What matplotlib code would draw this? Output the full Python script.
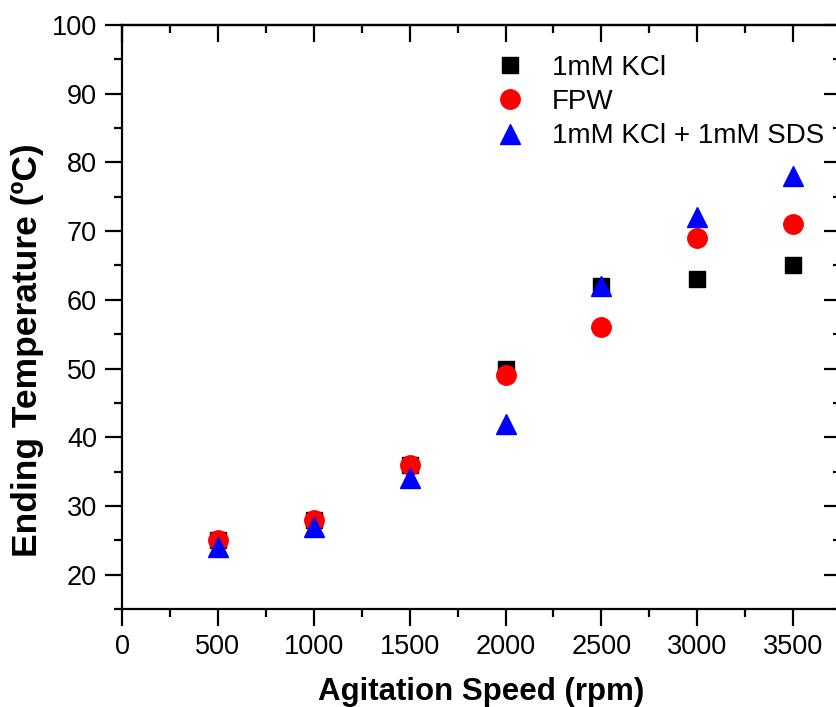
import matplotlib
matplotlib.use('Agg')
import matplotlib.pyplot as plt
from matplotlib.ticker import MultipleLocator

plt.rcParams['font.family'] = ['Liberation Sans', 'DejaVu Sans']

# agitation speed (rpm) and ending temperatures (C)
speed = [500, 1000, 1500, 2000, 2500, 3000, 3500]
kcl = [25, 28, 36, 50, 62, 63, 65]
fpw = [25, 28, 36, 49, 56, 69, 71]
kcl_sds = [24, 27, 34, 42, 62, 72, 78]

fig = plt.figure(figsize=(8.36, 7.07), dpi=100)
ax = fig.add_axes([0.146, 0.1386, 0.86, 0.826])

ax.plot(speed, kcl, 's', color='black', markersize=12, label='1mM KCl', clip_on=False)
ax.plot(speed, fpw, 'o', color='red', markersize=14, label='FPW', clip_on=False)
ax.plot(speed, kcl_sds, '^', color='blue', markersize=15, label='1mM KCl + 1mM SDS', clip_on=False)

ax.set_xlim(0, 3750)
ax.set_ylim(15, 100)
ax.xaxis.set_major_locator(MultipleLocator(500))
ax.xaxis.set_minor_locator(MultipleLocator(250))
ax.yaxis.set_major_locator(MultipleLocator(10))
ax.yaxis.set_minor_locator(MultipleLocator(5))
ax.set_yticks(range(20, 101, 10))

for s in ax.spines.values():
    s.set_linewidth(1.6)

ax.tick_params(which='both', width=1.6, labelsize=19.5, pad=6)
ax.tick_params(which='major', length=12)
ax.tick_params(which='minor', length=6)
ax.tick_params(axis='x', which='both', direction='out', top=False)
ax.tick_params(axis='y', which='both', direction='out', right=False)

# mirrored ticks on top and right, pointing inward
top = ax.secondary_xaxis('top')
top.xaxis.set_major_locator(MultipleLocator(500))
top.xaxis.set_minor_locator(MultipleLocator(250))
top.tick_params(which='both', direction='in', width=1.6, labeltop=False)
top.tick_params(which='major', length=12)
top.tick_params(which='minor', length=6)
top.spines['top'].set_linewidth(1.6)
right = ax.secondary_yaxis('right')
right.yaxis.set_major_locator(MultipleLocator(10))
right.yaxis.set_minor_locator(MultipleLocator(5))
right.tick_params(which='both', direction='in', width=1.6, labelright=False)
right.tick_params(which='major', length=12)
right.tick_params(which='minor', length=6)

ax.set_xlabel('Agitation Speed (rpm)', fontsize=22.5, fontweight='bold', labelpad=12)
ax.set_ylabel('Ending Temperature (ºC)', fontsize=25.5, fontweight='bold')
ax.yaxis.set_label_coords(-0.108, 0.443)

ax.legend(loc='upper left', bbox_to_anchor=(0.505, 0.968), frameon=False,
          fontsize=20, handletextpad=1.0, labelspacing=0.3, borderaxespad=0,
          handlelength=1.0)

fig.savefig('out.png', dpi=100)
